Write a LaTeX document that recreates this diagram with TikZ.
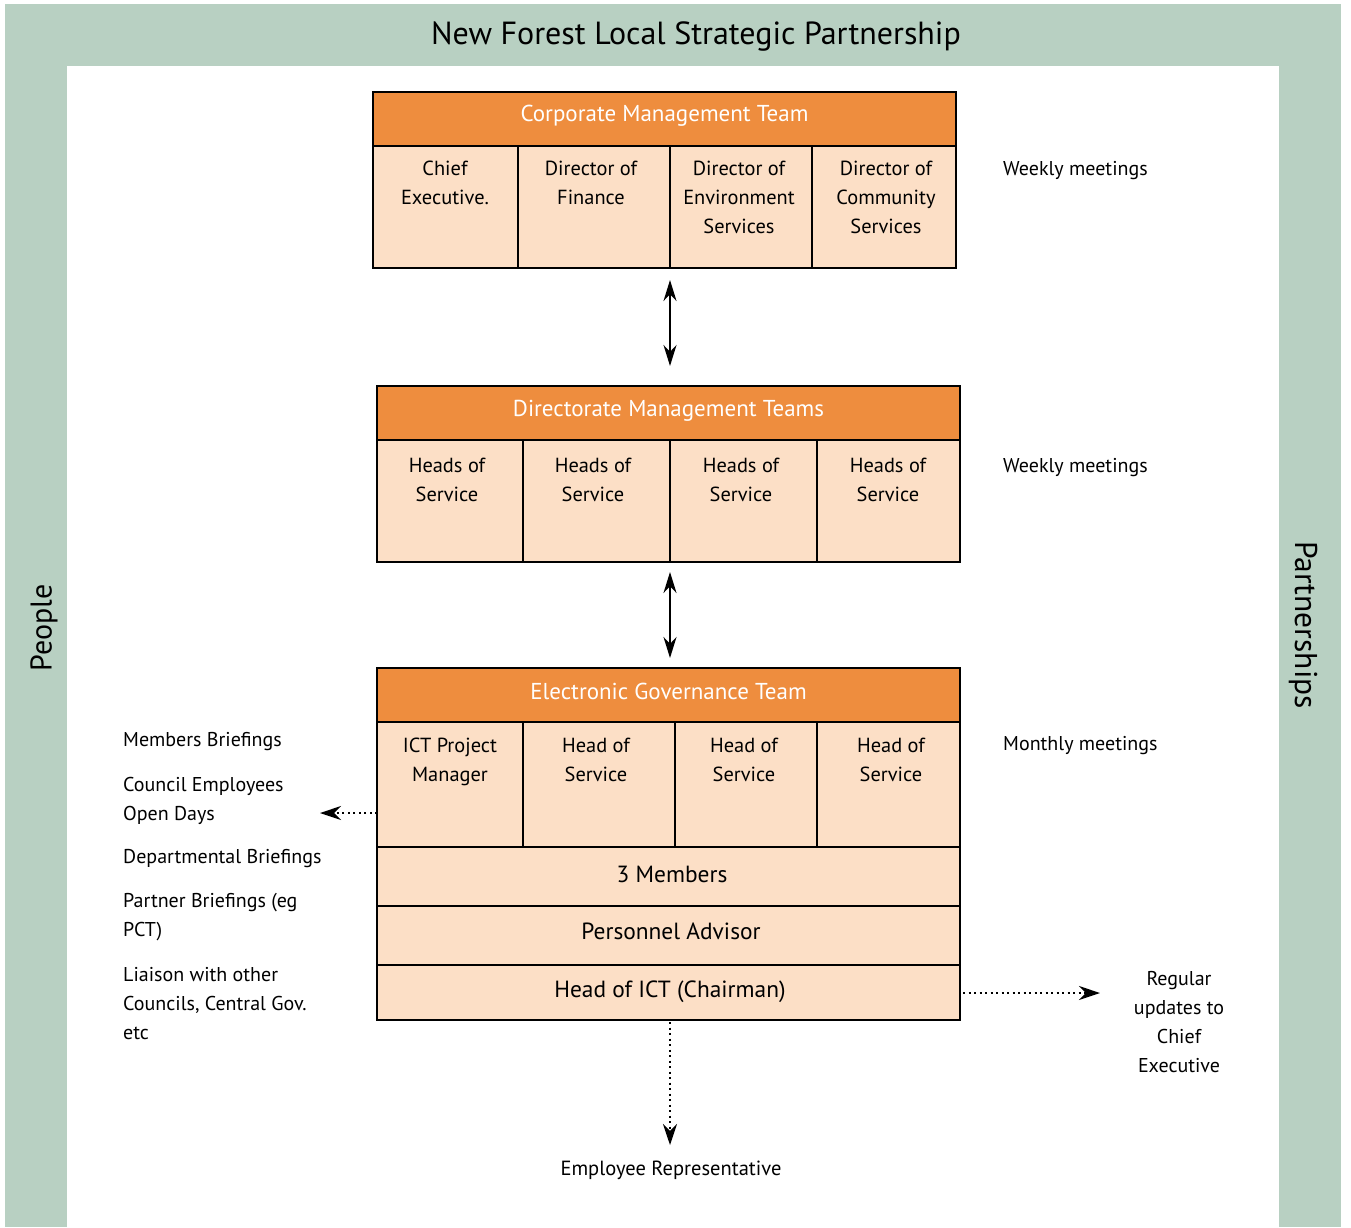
\documentclass[tikz,border=0pt]{standalone}
\usepackage{fontspec}
\setmainfont{PT Sans}
\usetikzlibrary{arrows.meta}
\definecolor{framegreen}{HTML}{B8D0C2}
\definecolor{teamorange}{HTML}{EE8D3E}
\definecolor{cellpeach}{HTML}{FCDFC6}
\tikzset{
	teamhead/.style={fill=teamorange, line width=2.6pt},
	teambody/.style={fill=cellpeach, line width=2.6pt},
	divider/.style={line width=1.4pt},
	headtext/.style={font=\fontsize{23}{29}\selectfont, text=white},
	celltext/.style={font=\fontsize{20.4}{29}\selectfont, align=center, anchor=north, inner sep=0pt},
	rowtext/.style={font=\fontsize{23.4}{29}\selectfont},
	sidetext/.style={font=\fontsize{20}{29}\selectfont, align=left, anchor=west, inner sep=0pt},
	twoway/.style={{Stealth[length=21pt,width=13pt]}-{Stealth[length=21pt,width=13pt]}, line width=2pt},
	dotarrow/.style={-{Stealth[length=21pt,width=14pt]}, line width=2pt, dash pattern=on 2pt off 3.5pt},
}
\begin{document}
\begin{tikzpicture}[x=1pt,y=-1pt]
	\useasboundingbox (0,0) rectangle (1351,1227);
	%Green frame round the chart
	\fill[framegreen] (5,4) rectangle (1341,1227);
	\fill[white] (67,66) rectangle (1279,1227);
	\node[font=\fontsize{32}{36}\selectfont] (title) at (696,36) {New Forest Local Strategic Partnership};
	\node[font=\fontsize{30}{36}\selectfont, rotate=90] (people) at (44,628) {People};
	\node[font=\fontsize{31.5}{36}\selectfont, rotate=-90] (partners) at (1303,625) {Partnerships};
	%Corporate Management Team
	\draw[teambody] (373,146) rectangle (956,268);
	\draw[teamhead] (373,92) rectangle (956,146);
	\draw[divider] (518,146) -- (518,268);
	\draw[divider] (670,146) -- (670,268);
	\draw[divider] (812,146) -- (812,268);
	\node[headtext] (cmt) at (664.5,116) {Corporate Management Team};
	\node[celltext] (cmt1) at (445,161) {Chief\\Executive.};
	\node[celltext] (cmt2) at (591,161) {Director of\\Finance};
	\node[celltext] (cmt3) at (739,161) {Director of\\Environment\\Services};
	\node[celltext] (cmt4) at (886,161) {Director of\\Community\\Services};
	%Directorate Management Teams
	\draw[teambody] (377,440) rectangle (960,562);
	\draw[teamhead] (377,386) rectangle (960,440);
	\draw[divider] (523,440) -- (523,562);
	\draw[divider] (670,440) -- (670,562);
	\draw[divider] (817,440) -- (817,562);
	\node[headtext] (dmt) at (668.5,411) {Directorate Management Teams};
	\node[celltext] (dmt1) at (447,458) {Heads of\\Service};
	\node[celltext] (dmt2) at (593,458) {Heads of\\Service};
	\node[celltext] (dmt3) at (741,458) {Heads of\\Service};
	\node[celltext] (dmt4) at (888,458) {Heads of\\Service};
	%Electronic Governance Team
	\draw[teambody] (377,722) rectangle (960,1020);
	\draw[teamhead] (377,668) rectangle (960,722);
	\draw[divider] (523,722) -- (523,847);
	\draw[divider] (675,722) -- (675,847);
	\draw[divider] (817,722) -- (817,847);
	\draw[line width=2pt] (377,847) -- (960,847);
	\draw[line width=2pt] (377,906) -- (960,906);
	\draw[line width=2pt] (377,965) -- (960,965);
	\node[headtext] (egt) at (668.5,691) {Electronic Governance Team};
	\node[celltext] (egt1) at (450,738) {ICT Project\\Manager};
	\node[celltext] (egt2) at (596,738) {Head of\\Service};
	\node[celltext] (egt3) at (744,738) {Head of\\Service};
	\node[celltext] (egt4) at (891,738) {Head of\\Service};
	\node[rowtext] (members) at (672,874) {3 Members};
	\node[rowtext] (advisor) at (671,931) {Personnel Advisor};
	\node[rowtext] (chairman) at (670,992) {Head of ICT (Chairman)};
	%Meeting notes on the right
	\node[sidetext] (weekly1) at (1003,171) {Weekly meetings};
	\node[sidetext] (weekly2) at (1003,468) {Weekly meetings};
	\node[sidetext] (monthly) at (1003,746) {Monthly meetings};
	\node[font=\fontsize{20}{29}\selectfont, align=center] (updates) at (1179,1022) {Regular\\updates to\\Chief\\Executive};
	\node[font=\fontsize{20.5}{29}\selectfont] (employee) at (671,1170) {Employee Representative};
	%Communication list on the left
	\node[sidetext] (brief1) at (123,742) {Members Briefings};
	\node[sidetext] (brief2) at (123,801) {Council Employees\\Open Days};
	\node[sidetext] (brief3) at (123,859) {Departmental Briefings};
	\node[sidetext] (brief4) at (123,917) {Partner Briefings (eg\\PCT)};
	\node[sidetext] (brief5) at (123,1004) {Liaison with other\\Councils, Central Gov.\\etc};
	%Arrows
	\coordinate (cmtfoot) at (670,280);
	\coordinate (dmttop) at (670,366);
	\coordinate (dmtfoot) at (670,572);
	\coordinate (egttop) at (670,658);
	\coordinate (egtleft) at (377,813);
	\coordinate (listend) at (320,813);
	\coordinate (egtright) at (963,993);
	\coordinate (updatesend) at (1100,993);
	\coordinate (egtfoot) at (670,1022);
	\coordinate (employeeend) at (670,1145);
	\draw[twoway] (cmtfoot) -- (dmttop);
	\draw[twoway] (dmtfoot) -- (egttop);
	\draw[dotarrow] (egtleft) -- (listend);
	\draw[dotarrow] (egtright) -- (updatesend);
	\draw[dotarrow] (egtfoot) -- (employeeend);
\end{tikzpicture}
\end{document}
